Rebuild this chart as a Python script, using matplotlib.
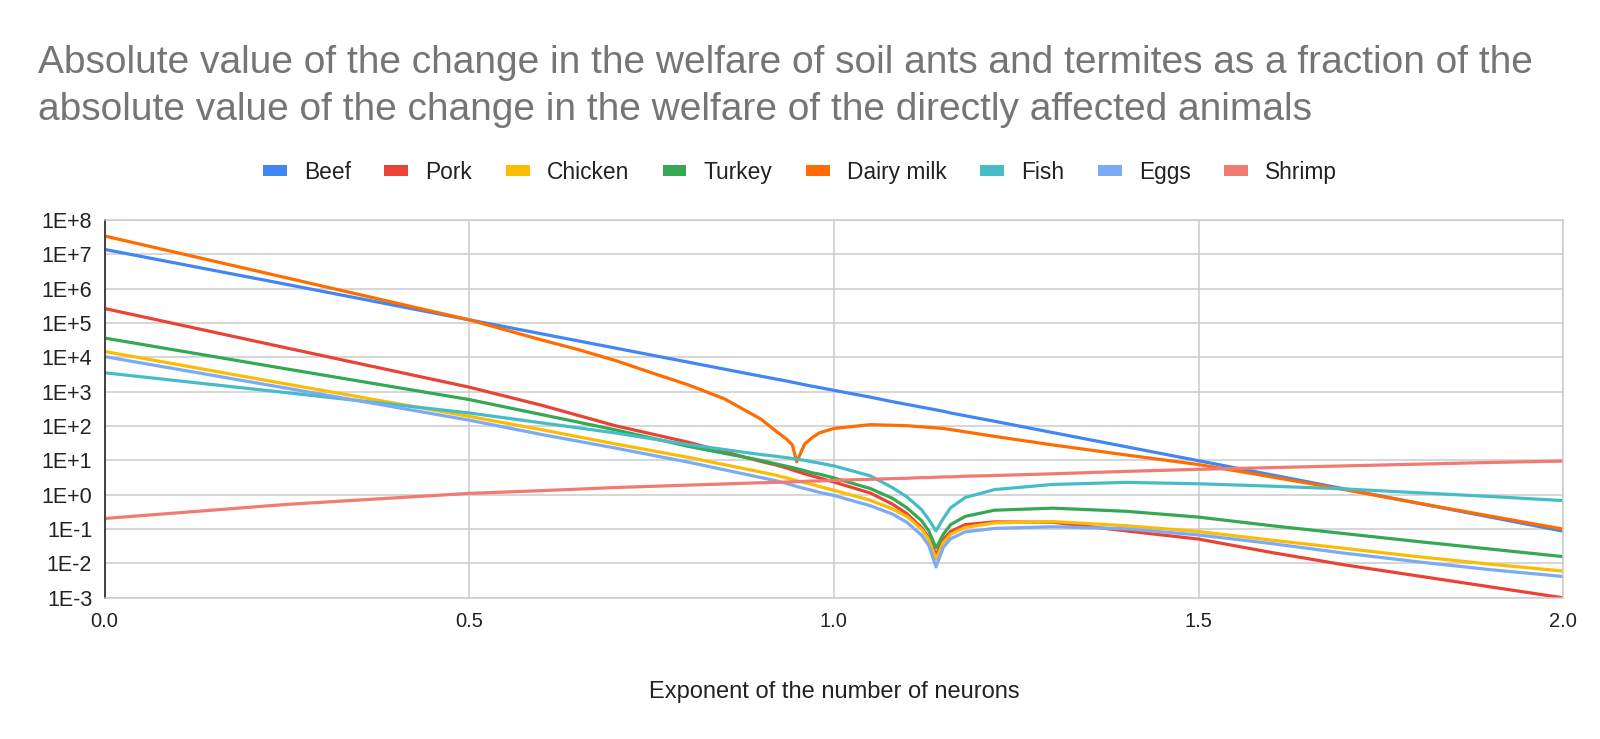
import numpy as np
import matplotlib
matplotlib.use("Agg")
import matplotlib.pyplot as plt
from matplotlib.patches import Patch

plt.rcParams['font.family'] = ['Liberation Sans', 'DejaVu Sans']

# exponent of the number of neurons (x), values as log10
x_vals = [0.0, 0.25, 0.5, 0.6, 0.7, 0.8, 0.9, 0.92, 0.935, 0.949, 0.96, 0.97, 0.98, 1.0,
          1.05, 1.08, 1.1, 1.12, 1.13, 1.14, 1.15, 1.16, 1.18, 1.22, 1.3, 1.4,
          1.5, 1.6, 1.7, 1.8, 1.9, 2.0]

beef_log = [7.14, 6.12, 5.09, 4.68, 4.27, 3.86, 3.45, 3.37, 3.31, 3.25, 3.20, 3.16, 3.12, 3.04,
            2.84, 2.71, 2.63, 2.55, 2.51, 2.47, 2.43, 2.38, 2.30, 2.14, 1.81, 1.40,
            0.99, 0.58, 0.17, -0.24, -0.65, -1.06]
pork_log = [5.42, 4.27, 3.13, 2.60, 2.01, 1.53, 0.97, 0.87, 0.78, 0.68, 0.61, 0.55, 0.49, 0.37,
            0.05, -0.27, -0.55, -0.95, -1.25, -1.76, -1.30, -1.07, -0.87, -0.79, -0.80, -1.05,
            -1.29, -1.68, -2.04, -2.36, -2.68, -3.00]
chicken_log = [4.17, 3.22, 2.28, 1.89, 1.48, 1.09, 0.66, 0.57, 0.49, 0.41, 0.35, 0.30, 0.24, 0.13,
               -0.16, -0.41, -0.63, -1.00, -1.30, -1.87, -1.39, -1.15, -0.95, -0.82, -0.78, -0.90,
               -1.07, -1.32, -1.56, -1.80, -2.02, -2.22]
turkey_log = [4.56, 3.66, 2.77, 2.33, 1.89, 1.41, 1.00, 0.90, 0.83, 0.76, 0.70, 0.64, 0.60, 0.49,
              0.18, -0.10, -0.38, -0.75, -1.05, -1.55, -1.15, -0.87, -0.63, -0.45, -0.39, -0.48,
              -0.65, -0.90, -1.13, -1.36, -1.58, -1.80]
fish_log = [3.55, 2.97, 2.38, 2.09, 1.80, 1.46, 1.17, 1.12, 1.08, 1.04, 1.00, 0.96, 0.92, 0.84,
            0.55, 0.21, -0.06, -0.43, -0.72, -1.05, -0.69, -0.38, -0.08, 0.15, 0.30, 0.36,
            0.32, 0.25, 0.17, 0.06, -0.05, -0.17]
eggs_log = [4.02, 3.10, 2.17, 1.75, 1.36, 0.95, 0.50, 0.41, 0.33, 0.24, 0.18, 0.13, 0.07, -0.02,
            -0.32, -0.56, -0.80, -1.17, -1.47, -2.10, -1.53, -1.28, -1.08, -0.98, -0.93, -0.99,
            -1.17, -1.42, -1.70, -1.95, -2.18, -2.38]
shrimp_log = [-0.69, -0.28, 0.04, 0.12, 0.21, 0.28, 0.35, 0.36, 0.37, 0.38, 0.39, 0.40, 0.40, 0.42,
              0.45, 0.47, 0.48, 0.50, 0.50, 0.51, 0.52, 0.52, 0.54, 0.56, 0.61, 0.68,
              0.74, 0.79, 0.84, 0.89, 0.94, 0.98]

# dairy milk has its own dip near 0.95, read on a finer set of x
dairy_x = [0.0, 0.25, 0.5, 0.6, 0.65, 0.7, 0.75, 0.8, 0.85, 0.9, 0.92, 0.935, 0.943, 0.949,
           0.96, 0.97, 0.98, 1.0, 1.05, 1.1, 1.15, 1.22, 1.3, 1.4, 1.5, 1.6, 1.7, 1.8, 1.9, 2.0]
dairy_log = [7.53, 6.31, 5.09, 4.50, 4.22, 3.91, 3.55, 3.20, 2.79, 2.20, 1.86, 1.62, 1.45, 0.96,
             1.48, 1.66, 1.80, 1.93, 2.04, 2.01, 1.93, 1.70, 1.45, 1.16, 0.88, 0.52, 0.15, -0.24, -0.62, -1.00]

names = ["Beef", "Pork", "Chicken", "Turkey", "Dairy milk", "Fish", "Eggs", "Shrimp"]
series = [beef_log, pork_log, chicken_log, turkey_log, dairy_log, fish_log, eggs_log, shrimp_log]
xs = [x_vals, x_vals, x_vals, x_vals, dairy_x, x_vals, x_vals, x_vals]
colors = ["#4285F4", "#EA4335", "#FBBC04", "#34A853", "#FF6D01", "#46BDC6", "#7BAAF7", "#F07B72"]

y_ticks = [1e-3, 1e-2, 1e-1, 1e0, 1e1, 1e2, 1e3, 1e4, 1e5, 1e6, 1e7, 1e8]
y_labels = ["1E-3", "1E-2", "1E-1", "1E+0", "1E+1", "1E+2", "1E+3", "1E+4", "1E+5", "1E+6", "1E+7", "1E+8"]
x_ticks = [0.0, 0.5, 1.0, 1.5, 2.0]

fig = plt.figure(figsize=(16, 7.39), dpi=100)
ax = fig.add_axes([0.0654, 0.191, 0.9116, 0.5115])

for name, xv, vals, col in zip(names, xs, series, colors):
    ax.plot(xv, 10 ** np.array(vals), color=col, lw=2.3, label=name, solid_joinstyle='round')

ax.set_yscale('log')
ax.set_ylim(1e-3, 1e8)
ax.set_xlim(0, 2)
ax.set_yticks(y_ticks)
ax.set_yticklabels(y_labels)
ax.yaxis.set_minor_locator(matplotlib.ticker.NullLocator())
ax.set_xticks(x_ticks)
ax.set_xticklabels(["%.1f" % v for v in x_ticks])
ax.tick_params(length=0, colors='#222222')
ax.tick_params(axis='y', labelsize=15.5, pad=9)
ax.tick_params(axis='x', labelsize=14.5, pad=10)
ax.grid(True, color='#cccccc', lw=1.1)
ax.set_axisbelow(True)
for s in ['top', 'right', 'bottom']:
    ax.spines[s].set_color('#cccccc')
    ax.spines[s].set_linewidth(1.1)
ax.spines['left'].set_color('#333333')
ax.spines['left'].set_linewidth(1.3)

ax.set_xlabel("Exponent of the number of neurons", fontsize=17, color='#222222', labelpad=36)

fig.text(0.024, 0.883, "Absolute value of the change in the welfare of soil ants and termites as a fraction of the\n"
         "absolute value of the change in the welfare of the directly affected animals",
         fontsize=28, color='#757575', ha='left', va='center', linespacing=1.39)

handles = [Patch(facecolor=c, edgecolor='none') for c in colors]
fig.legend(handles, names, loc='center', bbox_to_anchor=(0.5, 0.767), ncol=8, frameon=False,
           fontsize=16.4, handlelength=1.05, handleheight=0.31, handletextpad=0.75, columnspacing=1.47,
           labelcolor='#222222')

fig.savefig("out.png", dpi=100)
